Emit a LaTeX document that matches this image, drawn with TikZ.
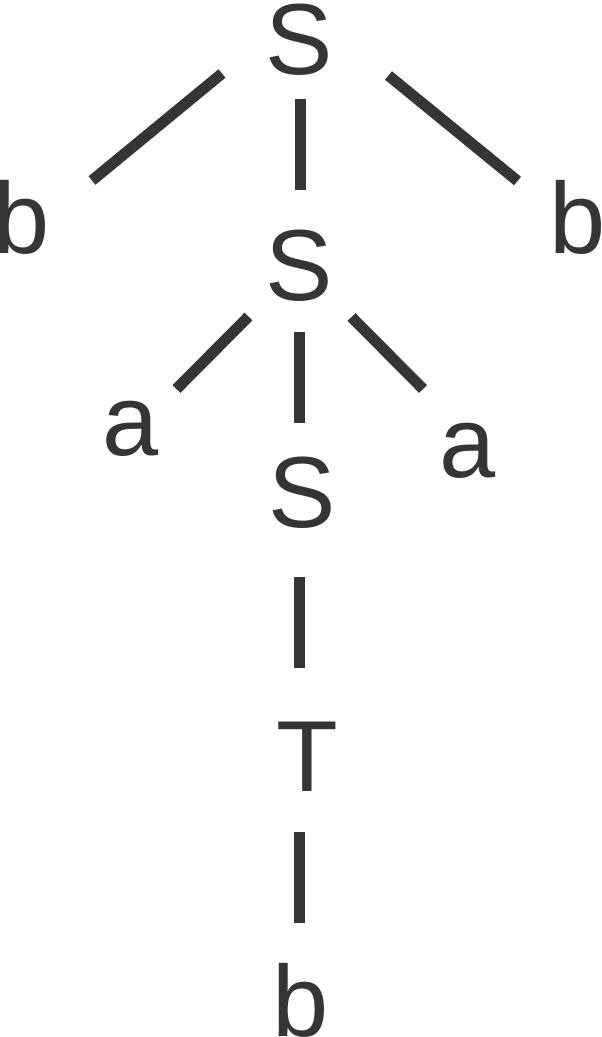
\documentclass[tikz,border=0pt]{standalone}
\usepackage{fontspec}
\setmainfont{Liberation Sans}
\usetikzlibrary{positioning}
\definecolor{treegray}{RGB}{54,52,53}

\begin{document}
\begin{tikzpicture}[x=1pt,y=-1pt,
  sym/.style={inner sep=0pt,anchor=base,text=treegray,font=\fontsize{101}{101}\selectfont},
  branch/.style={draw=treegray,line width=11pt}]
\useasboundingbox (0,0) rectangle (602,1037);
% symbols of the tree
\node[sym] (s1) at (299,74) {S};
\node[sym] (b1) at (21.5,253) {b};
\node[sym] (b2) at (578,253) {b};
\node[sym] (s2) at (299.5,300) {S};
\node[sym] (a1) at (130.5,455) {a};
\node[sym] (a2) at (468,477) {a};
\node[sym] (s3) at (302.5,527) {S};
\node[sym] (t1) at (307,791) {T};
\node[sym] (b3) at (300.5,1036) {b};
% ends of the branches
\coordinate (s1-l) at (222,73.5);   \coordinate (b1-t) at (92,180.5);
\coordinate (s1-m) at (300,99);     \coordinate (s2-t) at (300,190);
\coordinate (s1-r) at (388.5,75.5); \coordinate (b2-t) at (517.5,181);
\coordinate (s2-l) at (248.5,316.5);\coordinate (a1-t) at (176.5,389);
\coordinate (s2-m) at (299,332);    \coordinate (s3-t) at (299,423);
\coordinate (s2-r) at (351.5,317);  \coordinate (a2-t) at (423,389);
\coordinate (s3-m) at (299.5,577);  \coordinate (t1-t) at (299.5,668);
\coordinate (t1-m) at (299.5,832);  \coordinate (b3-t) at (299.5,923);
%
\draw[branch] (s1-l) -- (b1-t);
\draw[branch] (s1-m) -- (s2-t);
\draw[branch] (s1-r) -- (b2-t);
\draw[branch] (s2-l) -- (a1-t);
\draw[branch] (s2-m) -- (s3-t);
\draw[branch] (s2-r) -- (a2-t);
\draw[branch] (s3-m) -- (t1-t);
\draw[branch] (t1-m) -- (b3-t);
\end{tikzpicture}
\end{document}
